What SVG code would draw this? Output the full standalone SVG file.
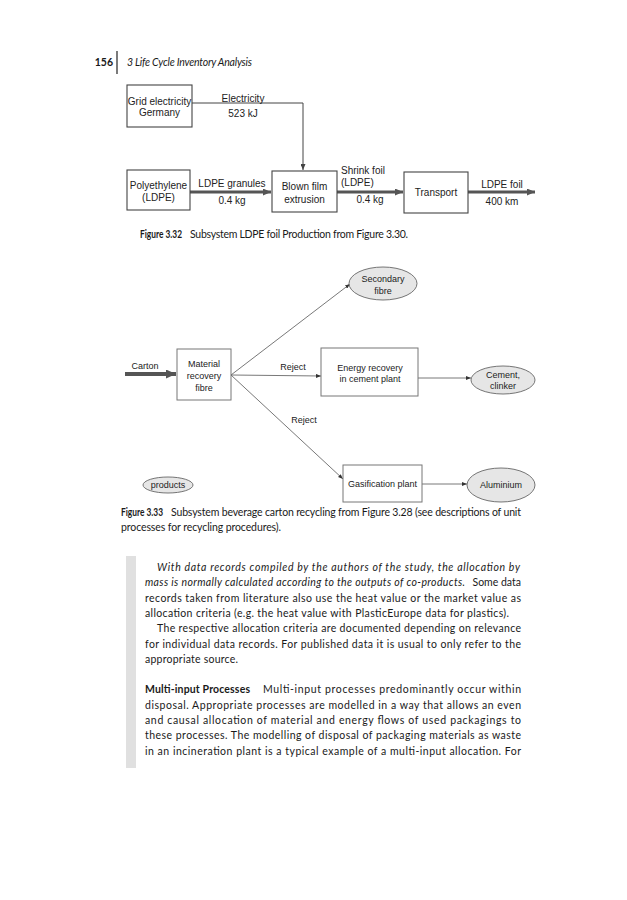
<svg xmlns="http://www.w3.org/2000/svg" width="627" height="900" viewBox="0 0 627 900">
<style>
.lbl{font-family:"Liberation Sans",Arial,sans-serif;font-size:10px;fill:#222;text-anchor:middle}
.lbl2{font-family:"Liberation Sans",Arial,sans-serif;font-size:9px;fill:#222;text-anchor:middle}
.st{text-anchor:start}
.bt{font-family:Lato,"Open Sans",sans-serif;font-size:10.5px;fill:#1a1a1a}
.it{font-style:italic}
.b{font-weight:bold}
.box{fill:#fff;stroke:#444;stroke-width:1.1}
.box2{fill:#fff;stroke:#777;stroke-width:1}
.ell{fill:#e6e6e6;stroke:#666;stroke-width:0.9}
.thick{stroke:#555;stroke-width:3;fill:none}
.thin{stroke:#444;stroke-width:1;fill:none}
.thin2{stroke:#555;stroke-width:0.8;fill:none}
</style>
<defs>
<marker id="ah" markerUnits="userSpaceOnUse" markerWidth="8" markerHeight="7" refX="8" refY="3.5" orient="auto"><path d="M0,0 L8,3.5 L0,7 z" fill="#555"/></marker>
<marker id="ahc" markerUnits="userSpaceOnUse" markerWidth="10" markerHeight="9" refX="10" refY="4.5" orient="auto"><path d="M0,0 L10,4.5 L0,9 z" fill="#555"/></marker>
<marker id="as" markerUnits="userSpaceOnUse" markerWidth="6" markerHeight="5" refX="6" refY="2.5" orient="auto"><path d="M0,0 L6,2.5 L0,5 z" fill="#444"/></marker>
<marker id="at" markerUnits="userSpaceOnUse" markerWidth="5" markerHeight="4" refX="5" refY="2" orient="auto"><path d="M0,0 L5,2 L0,4 z" fill="#333"/></marker>
</defs>

<!-- page header -->
<g id="header">
<text class="bt b" x="113" y="66" text-anchor="end" font-size="11">156</text>
<line x1="117" y1="51" x2="117" y2="74" stroke="#222" stroke-width="1.2"/>
<text class="bt it" x="127" y="66" font-size="10.5" textLength="125" lengthAdjust="spacing">3  Life Cycle Inventory Analysis</text>
</g>

<!-- Figure 3.32 connectors -->
<g id="connectors-332">
<polyline class="thin" points="192,103 303,103 303,170" marker-end="url(#as)"/>
<line class="thick" x1="190" y1="192" x2="271" y2="192" marker-end="url(#ah)"/>
<line class="thick" x1="337" y1="192" x2="403" y2="192" marker-end="url(#ah)"/>
<line class="thick" x1="468" y1="192" x2="535" y2="192" marker-end="url(#ah)"/>
<text class="lbl" x="243" y="102">Electricity</text>
<text class="lbl" x="243" y="117">523 kJ</text>
<text class="lbl" x="232" y="187">LDPE granules</text>
<text class="lbl" x="232" y="204">0.4 kg</text>
<text class="lbl st" x="341" y="174">Shrink foil</text>
<text class="lbl st" x="341" y="186">(LDPE)</text>
<text class="lbl" x="370" y="203">0.4 kg</text>
<text class="lbl" x="502" y="188">LDPE foil</text>
<text class="lbl" x="502" y="205">400 km</text>
</g>

<g id="grid-electricity">
<rect class="box" x="127" y="85" width="65" height="42"/>
<text class="lbl" x="159.5" y="105">Grid electricity</text>
<text class="lbl" x="159.5" y="116">Germany</text>
</g>
<g id="polyethylene">
<rect class="box" x="127" y="170" width="63" height="40"/>
<text class="lbl" x="158.5" y="189">Polyethylene</text>
<text class="lbl" x="158.5" y="201">(LDPE)</text>
</g>
<g id="blown-film">
<rect class="box" x="272" y="171" width="65" height="41"/>
<text class="lbl" x="304.5" y="190">Blown film</text>
<text class="lbl" x="304.5" y="203">extrusion</text>
</g>
<g id="transport">
<rect class="box" x="404" y="172" width="64" height="41"/>
<text class="lbl" x="436" y="196">Transport</text>
</g>

<g id="caption-332">
<text class="bt b" x="140" y="238" font-size="10" textLength="42" lengthAdjust="spacingAndGlyphs">Figure 3.32</text>
<text class="bt" x="190" y="238" font-size="10" textLength="218" lengthAdjust="spacing">Subsystem LDPE foil Production from Figure 3.30.</text>
</g>

<!-- Figure 3.33 connectors -->
<g id="connectors-333">
<line x1="125" y1="374" x2="176" y2="374" stroke="#555" stroke-width="4" marker-end="url(#ahc)"/>
<line class="thin2" x1="231" y1="375" x2="350" y2="284" marker-end="url(#at)"/>
<line class="thin2" x1="231" y1="375" x2="321" y2="376" marker-end="url(#at)"/>
<line class="thin2" x1="231" y1="375" x2="343" y2="479" marker-end="url(#at)"/>
<line class="thin2" x1="418" y1="378" x2="471" y2="378" marker-end="url(#at)"/>
<line class="thin2" x1="422" y1="484" x2="467" y2="484" marker-end="url(#at)"/>
<text class="lbl2" x="145" y="369">Carton</text>
<text class="lbl2" x="293" y="370">Reject</text>
<text class="lbl2" x="304" y="423">Reject</text>
</g>

<g id="material-recovery">
<rect class="box2" x="177" y="349" width="54" height="51"/>
<text class="lbl2" x="204" y="367">Material</text>
<text class="lbl2" x="204" y="379">recovery</text>
<text class="lbl2" x="204" y="391">fibre</text>
</g>
<g id="secondary-fibre">
<ellipse class="ell" cx="383" cy="283.5" rx="34" ry="16.5"/>
<text class="lbl2" x="383" y="282">Secondary</text>
<text class="lbl2" x="383" y="294">fibre</text>
</g>
<g id="energy-recovery">
<rect class="box2" x="321" y="348" width="97" height="48"/>
<text class="lbl2" x="370" y="371">Energy recovery</text>
<text class="lbl2" x="370" y="382">in cement plant</text>
</g>
<g id="cement-clinker">
<ellipse class="ell" cx="503" cy="380" rx="32" ry="14"/>
<text class="lbl2" x="503" y="378">Cement,</text>
<text class="lbl2" x="503" y="389">clinker</text>
</g>
<g id="gasification">
<rect class="box2" x="343" y="465" width="79" height="37"/>
<text class="lbl2" x="382.5" y="487">Gasification plant</text>
</g>
<g id="aluminium">
<ellipse class="ell" cx="501" cy="485" rx="34" ry="17"/>
<text class="lbl2" x="501" y="488">Aluminium</text>
</g>
<g id="products">
<ellipse class="ell" cx="168" cy="485" rx="25" ry="8"/>
<text class="lbl2" x="168" y="488">products</text>
</g>

<g id="caption-333">
<text class="bt b" x="121" y="515.5" font-size="10" textLength="42" lengthAdjust="spacingAndGlyphs">Figure 3.33</text>
<text class="bt" x="171" y="515.5" font-size="10" textLength="350" lengthAdjust="spacing">Subsystem beverage carton recycling from Figure 3.28 (see descriptions of unit</text>
<text class="bt" x="121" y="530.5" font-size="10" textLength="160" lengthAdjust="spacing">processes for recycling procedures).</text>
</g>

<!-- body text -->
<g id="body-text">
<rect x="126" y="556" width="10" height="212" fill="#e0e0e0"/>
<text class="bt it" x="157" y="571" textLength="363" lengthAdjust="spacing">With data records compiled by the authors of the study, the allocation by</text>
<text class="bt it" x="145" y="586.3" textLength="320" lengthAdjust="spacing">mass is normally calculated according to the outputs of co-products.</text>
<text class="bt" x="521" y="586.3" text-anchor="end">Some data</text>
<text class="bt" x="145" y="601.6" textLength="376" lengthAdjust="spacing">records taken from literature also use the heat value or the market value as</text>
<text class="bt" x="145" y="616.9" textLength="364" lengthAdjust="spacing">allocation criteria (e.g. the heat value with PlasticEurope data for plastics).</text>
<text class="bt" x="157" y="632.2" textLength="364" lengthAdjust="spacing">The respective allocation criteria are documented depending on relevance</text>
<text class="bt" x="145" y="647.5" textLength="376" lengthAdjust="spacing">for individual data records. For published data it is usual to only refer to the</text>
<text class="bt" x="145" y="662.8" textLength="93" lengthAdjust="spacing">appropriate source.</text>
<text class="bt b" x="145" y="693.4" textLength="105" lengthAdjust="spacing">Multi-input Processes</text>
<text class="bt" x="263" y="693.4" textLength="258" lengthAdjust="spacing">Multi-input processes predominantly occur within</text>
<text class="bt" x="145" y="708.7" textLength="376" lengthAdjust="spacing">disposal. Appropriate processes are modelled in a way that allows an even</text>
<text class="bt" x="145" y="724" textLength="376" lengthAdjust="spacing">and causal allocation of material and energy flows of used packagings to</text>
<text class="bt" x="145" y="739.3" textLength="376" lengthAdjust="spacing">these processes. The modelling of disposal of packaging materials as waste</text>
<text class="bt" x="145" y="754.6" textLength="376" lengthAdjust="spacing">in an incineration plant is a typical example of a multi-input allocation. For</text>
</g>
</svg>
